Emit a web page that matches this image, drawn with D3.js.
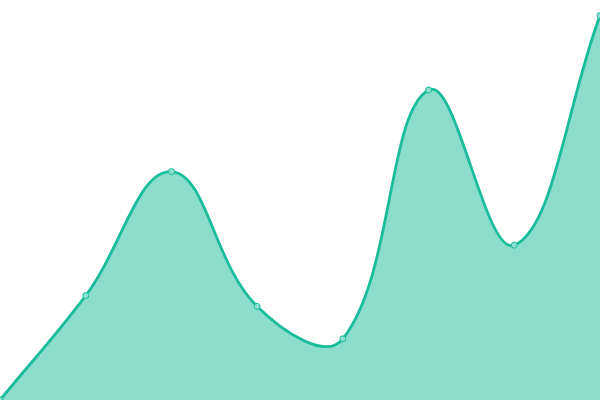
<html>
<script src='https://d3js.org/d3.v7.min.js'></script>
<style>
body { margin: 0; background: white; }
.area { fill: #1abc9c; fill-opacity: 0.5; }
.line { fill: none; stroke: #1abc9c; stroke-width: 2.8; }
.dot { fill: #8ce0cf; stroke: #1abc9c; stroke-width: 1; }
</style>
<body>
<svg class="graph" width=600 height=400></svg>
<script>
var steps = [0, 1, 2, 3, 4, 5, 6, 7];
var values = [0, 26.1, 57.1, 23.4, 15.3, 77.5, 38.7, 96.1];

var width = 600, height = 400;
var tension = 0.4;

var x = d3.scaleLinear().domain([0, 7]).range([0, width]);
var y = d3.scaleLinear().domain([0, 100]).range([height, 0]);

var data = steps.map(function(s, i) { return {step: s, value: values[i]}; });

// spline with distance-weighted control points
function Spline(context) { this._context = context; }
Spline.prototype = {
  areaStart: function() { this._line = 0; },
  areaEnd: function() { this._line = NaN; },
  lineStart: function() { this._pts = []; },
  point: function(px, py) { this._pts.push([+px, +py]); },
  lineEnd: function() {
    var p = this._pts, n = p.length, c = this._context;
    if (n) {
      if (this._line) c.lineTo(p[0][0], p[0][1]);
      else c.moveTo(p[0][0], p[0][1]);
      var ctrl = p.map(function(cur, i) {
        var prev = p[i - 1] || cur, next = p[i + 1] || cur;
        var d01 = Math.hypot(cur[0] - prev[0], cur[1] - prev[1]);
        var d12 = Math.hypot(next[0] - cur[0], next[1] - cur[1]);
        var s01 = d01 / (d01 + d12), s12 = d12 / (d01 + d12);
        if (isNaN(s01)) s01 = 0;
        if (isNaN(s12)) s12 = 0;
        var fa = tension * s01, fb = tension * s12;
        var dx = next[0] - prev[0], dy = next[1] - prev[1];
        return {
          prev: [cur[0] - fa * dx, cur[1] - fa * dy],
          next: [cur[0] + fb * dx, cur[1] + fb * dy]
        };
      });
      for (var i = 1; i < n; i++) {
        c.bezierCurveTo(ctrl[i - 1].next[0], ctrl[i - 1].next[1],
                        ctrl[i].prev[0], ctrl[i].prev[1],
                        p[i][0], p[i][1]);
      }
    }
    if (this._line || (this._line !== 0 && n === 1)) c.closePath();
    this._line = 1 - this._line;
  }
};
function curveSpline(context) { return new Spline(context); }

var svg = d3.select('.graph');

var area = d3.area()
    .curve(curveSpline)
    .x(function(d) { return x(d.step); })
    .y0(height)
    .y1(function(d) { return y(d.value); });

var line = d3.line()
    .curve(curveSpline)
    .x(function(d) { return x(d.step); })
    .y(function(d) { return y(d.value); });

svg.append('path').datum(data).attr('class', 'area').attr('d', area);
svg.append('path').datum(data).attr('class', 'line').attr('d', line);

svg.selectAll('.dot')
    .data(data)
    .enter()
    .append('circle')
    .attr('class', 'dot')
    .attr('cx', function(d) { return x(d.step); })
    .attr('cy', function(d) { return y(d.value); })
    .attr('r', 3);
</script>
</body>
</html>
